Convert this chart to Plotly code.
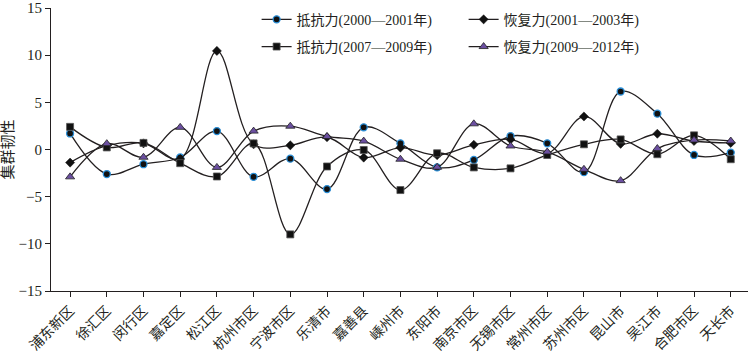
import plotly.graph_objects as go

categories = ["浦东新区", "徐汇区", "闵行区", "嘉定区", "松江区", "杭州市区", "宁波市区", "乐清市",
              "嘉善县", "嵊州市", "东阳市", "南京市区", "无锡市区", "常州市区", "苏州市区", "昆山市",
              "吴江市", "合肥市区", "天长市"]

resist_2000_2001 = [1.7, -2.6, -1.56, -0.85, 1.95, -2.9, -0.97, -4.2, 2.35, 0.65, -1.9, -1.1,
                    1.42, 0.65, -2.4, 6.15, 3.8, -0.58, -0.33]
recover_2001_2003 = [-1.39, 0.4, 0.65, -1.0, 10.45, 0.55, 0.44, 1.3, -0.86, 0.2, -0.6, 0.5,
                     1.07, -0.4, 3.5, 0.6, 1.67, 0.9, 0.7]
resist_2007_2009 = [2.4, 0.22, 0.7, -1.45, -2.86, 0.65, -9.0, -1.8, -0.05, -4.3, -0.4, -1.9,
                    -2.0, -0.58, 0.55, 1.07, -0.5, 1.5, -1.03]
recover_2009_2012 = [-2.9, 0.62, -0.82, 2.35, -1.9, 1.95, 2.47, 1.38, 0.89, -1.03, -1.88, 2.72,
                     0.37, -0.26, -2.1, -3.3, 0.1, 1.0, 0.9]

y_ticks = [-15, -10, -5, 0, 5, 10, 15]

names = ["抵抗力(2000—2001年)", "恢复力(2001—2003年)", "抵抗力(2007—2009年)", "恢复力(2009—2012年)"]
series = [resist_2000_2001, recover_2001_2003, resist_2007_2009, recover_2009_2012]
legend_ids = ["legend", "legend2", "legend", "legend2"]
markers = [
    dict(symbol="circle", size=7, color="#111111", line=dict(color="#2a8fd8", width=1.3)),
    dict(symbol="diamond", size=7, color="#111111", line=dict(color="#111111", width=0.5)),
    dict(symbol="square", size=7, color="#111111", line=dict(color="#555555", width=0.8)),
    dict(symbol="triangle-up", size=8, color="#6b4fa0", line=dict(color="#222222", width=0.8)),
]

x_idx = list(range(len(categories)))

fig = go.Figure()
for i, (name, vals, mk, lg) in enumerate(zip(names, series, markers, legend_ids)):
    fig.add_trace(go.Scatter(
        x=x_idx, y=vals, name=name, mode="lines+markers",
        line=dict(color="#231f20", width=1.3, shape="spline", smoothing=1.0),
        marker=mk, legend=lg, legendgroup=f"g{i}",
    ))

font_fam = "Liberation Serif, Noto Sans CJK SC, serif"

legend_common = dict(
    orientation="v", yanchor="top", xanchor="left", y=1.015,
    bgcolor="rgba(0,0,0,0)", font=dict(size=14, family=font_fam),
    itemwidth=30, tracegroupgap=6, traceorder="grouped",
)

fig.update_layout(
    width=750, height=356,
    margin=dict(l=51, r=2, t=8, b=65, autoexpand=False),
    paper_bgcolor="white", plot_bgcolor="white",
    font=dict(family=font_fam, color="#231f20", size=14),
    showlegend=True,
    legend=dict(x=0.295, **legend_common),
    legend2=dict(x=0.592, **legend_common),
    xaxis=dict(
        tickmode="array", tickvals=x_idx, ticktext=categories,
        range=[-0.52, 18.47], tickangle=-45, automargin=False,
        showline=True, linecolor="#231f20", linewidth=1,
        ticks="outside", ticklen=5, tickcolor="#231f20",
        showgrid=False, zeroline=False, ticklabeloverflow="allow",
        tickfont=dict(size=14, family=font_fam),
    ),
    yaxis=dict(
        range=[-15, 15], tickvals=y_ticks, automargin=False,
        showline=True, linecolor="#231f20", linewidth=1,
        ticks="outside", ticklen=5, tickcolor="#231f20",
        showgrid=False, zeroline=False, ticklabeloverflow="allow",
        tickfont=dict(size=15, family=font_fam),
        title=dict(text="集群韧性", font=dict(size=15, family=font_fam), standoff=12),
    ),
)

fig.write_html("out.html", post_script="document.body.style.margin='0';",
               config={"displayModeBar": False})
